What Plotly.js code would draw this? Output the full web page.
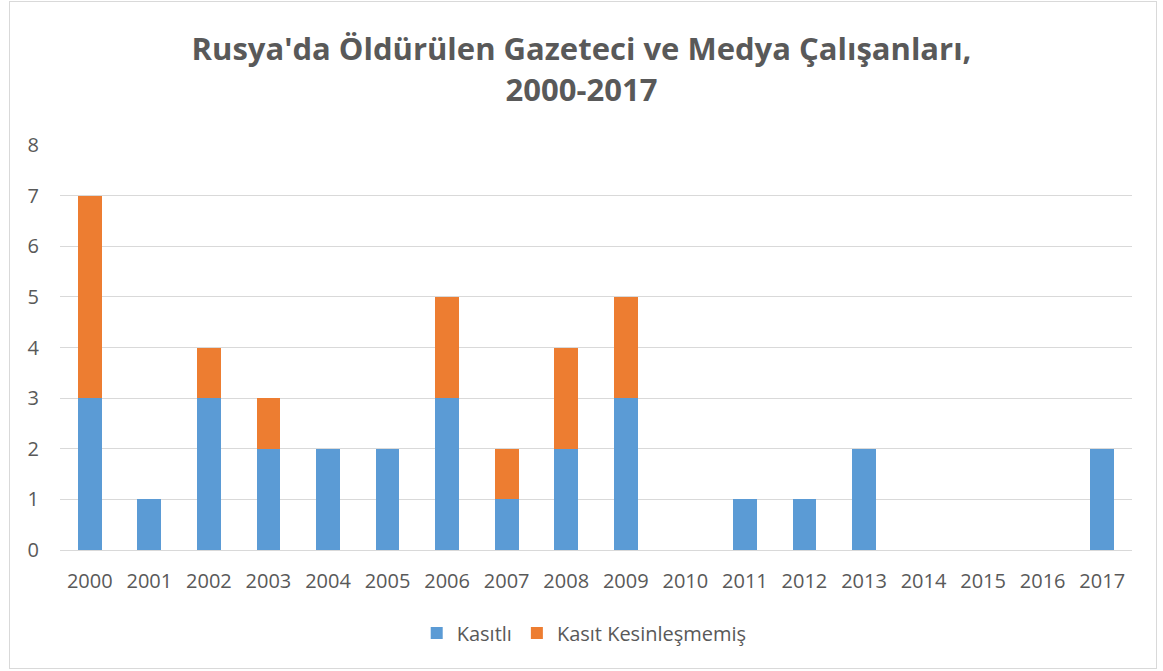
<!DOCTYPE html>
<html>
<head>
<meta charset="utf-8">
<script src="https://cdn.plot.ly/plotly-3.0.1.min.js"></script>
<style>
html,body{margin:0;padding:0;background:#fff;}
#wrap{position:relative;width:1163px;height:671px;}
#frame{position:absolute;left:9px;top:1px;width:1148px;height:668px;border:1px solid #d9d9d9;box-sizing:border-box;pointer-events:none;z-index:5;}
#chart{position:absolute;left:0;top:0;width:1163px;height:671px;}
</style>
</head>
<body>
<div id="wrap"><div id="chart"></div><div id="frame"></div></div>
<script>
const years = ['2000','2001','2002','2003','2004','2005','2006','2007','2008','2009','2010','2011','2012','2013','2014','2015','2016','2017'];
const kasitli = [3,1,3,2,2,2,3,1,2,3,0,1,1,2,0,0,0,2];
const kesinlesmemis = [4,0,1,1,0,0,2,1,2,2,0,0,0,0,0,0,0,0];
const seriesNames = ['Kasıtlı','Kasıt Kesinleşmemiş'];
const titleText = "Rusya'da Öldürülen Gazeteci ve Medya Çalışanları,<br>2000-2017";

const font = "'Open Sans', sans-serif";
const gray = '#595959';

const data = [
  {type:'bar', name:seriesNames[0], x:years, y:kasitli, marker:{color:'#5B9BD5'}, hoverinfo:'x+y+name'},
  {type:'bar', name:seriesNames[1], x:years, y:kesinlesmemis, marker:{color:'#ED7D31'}, hoverinfo:'x+y+name'}
];
const layout = {
  width:1163, height:671,
  barmode:'stack', bargap:0.6,
  paper_bgcolor:'rgba(0,0,0,0)', plot_bgcolor:'#fff',
  margin:{l:60, r:31, t:145, b:121},
  font:{family:font, size:20, color:gray},
  title:{text:titleText, x:0.5, xanchor:'center', xref:'container', yref:'container', y:0.91, yanchor:'middle',
         font:{family:font, size:31, color:gray, weight:'bold'}},
  xaxis:{type:'category', showgrid:false, zeroline:false, showline:true, linecolor:'#d9d9d9', linewidth:1,
         ticks:'', ticklabelstandoff:13, tickfont:{size:20, color:gray}},
  yaxis:{range:[0,8], dtick:1, showgrid:true, gridcolor:'#d9d9d9', gridwidth:1, zeroline:false,
         ticks:'', ticklabelstandoff:20, tickfont:{size:20, color:gray}},
  legend:{orientation:'h', x:0.489, xanchor:'center', y:-0.205, yanchor:'middle',
          font:{size:20, color:gray}, traceorder:'normal', itemwidth:30}
};
Plotly.newPlot('chart', data, layout, {displayModeBar:false});
</script>
</body>
</html>
